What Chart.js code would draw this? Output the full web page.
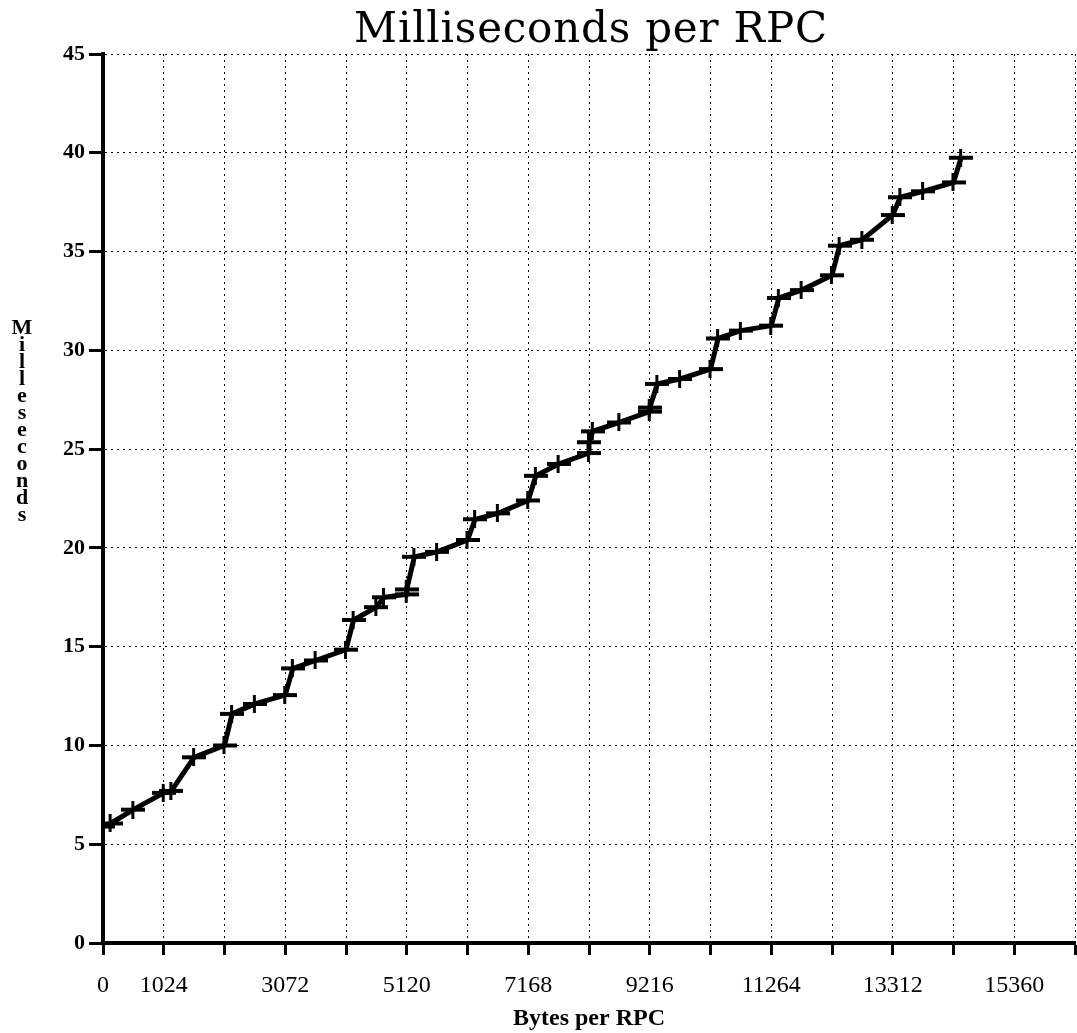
<!DOCTYPE html>
<html>
<head>
<meta charset="utf-8">
<script src="https://cdn.jsdelivr.net/npm/chart.js@4.4.0/dist/chart.umd.min.js"></script>
<style>
  html, body { margin: 0; background: #fff; }
</style>
</head>
<body>
<canvas id="graficoRPC" width="1077" height="1033"></canvas>
<script>
/* Milliseconds per RPC — custo de RPC por tamanho da mensagem */

const bytes = [0, 128, 512, 1024, 1152, 1536, 2048, 2176, 2560, 3072, 3200, 3584,
  4096, 4224, 4608, 4736, 5120, 5120, 5248, 5632, 6144, 6272, 6656,
  7168, 7296, 7680, 8192, 8192, 8256, 8704, 9216, 9216, 9344, 9728,
  10240, 10368, 10752, 11264, 11392, 11776, 12288, 12416, 12800,
  13312, 13440, 13824, 14336, 14464];
const ms = [5.9, 6.05, 6.75, 7.6, 7.7, 9.4, 10.0, 11.6, 12.1, 12.55, 13.9, 14.3,
  14.85, 16.35, 17.0, 17.5, 17.65, 17.9, 19.55, 19.8, 20.4, 21.45, 21.75,
  22.4, 23.65, 24.25, 24.8, 25.35, 25.9, 26.35, 26.9, 27.1, 28.3, 28.55,
  29.05, 30.6, 31.0, 31.25, 32.65, 33.05, 33.8, 35.3, 35.6,
  36.85, 37.75, 38.05, 38.5, 39.75];

// rótulos do eixo x: só 0 e os múltiplos ímpares de 1024
const xRotulos = [0, 1024, 3072, 5120, 7168, 9216, 11264, 13312, 15360];
const titulo = 'Milliseconds per RPC';
const xTitulo = 'Bytes per RPC';
const yTitulo = 'Milleseconds';

const serif = '"Liberation Serif", "DejaVu Serif", serif';

// marcador "+" com braço horizontal mais largo
function marcadorMais() {
  const c = document.createElement('canvas');
  c.width = 24; c.height = 18;
  const g = c.getContext('2d');
  g.fillStyle = '#000';
  g.fillRect(0, 7, 24, 4);
  g.fillRect(10, 0, 3, 18);
  return c;
}

// título principal e título do eixo y (letras empilhadas)
const textos = {
  id: 'textos',
  afterDraw(chart) {
    const ctx = chart.ctx;
    ctx.save();
    ctx.fillStyle = '#000';
    ctx.textAlign = 'center';

    // título: largura ajustada ao original (~473px)
    ctx.font = '42px "DejaVu Serif", serif';
    const w = ctx.measureText(titulo).width;
    const extra = (473 - w) / (titulo.length - 1);
    if (extra > 0) ctx.letterSpacing = extra.toFixed(2) + 'px';
    ctx.textBaseline = 'alphabetic';
    ctx.fillText(titulo, 591, 42);
    ctx.letterSpacing = '0px';

    ctx.font = 'bold 22px ' + serif;
    ctx.textBaseline = 'middle';
    yTitulo.split('').forEach((l, i) => ctx.fillText(l, 22, 328 + i * 17));
    ctx.restore();
  }
};

new Chart(document.getElementById('graficoRPC'), {
  type: 'line',
  data: {
    datasets: [{
      data: bytes.map((b, i) => ({ x: b, y: ms[i] })),
      borderColor: '#000',
      borderWidth: 5,
      tension: 0,
      pointStyle: marcadorMais(),
      pointRadius: 9,
      pointHoverRadius: 9
    }]
  },
  options: {
    responsive: false,
    animation: false,
    layout: { autoPadding: false, padding: { top: 54, right: 2, left: 0, bottom: 0 } },
    plugins: {
      legend: { display: false },
      tooltip: { enabled: false },
      title: { display: false }
    },
    scales: {
      x: {
        type: 'linear',
        min: 0, max: 16384,
        afterFit: s => { s.height = 90; s.paddingLeft = 0; s.paddingRight = 0; },
        afterBuildTicks: s => { s.ticks = Array.from({ length: 17 }, (_, i) => ({ value: i * 1024 })); },
        ticks: {
          autoSkip: false, maxRotation: 0, padding: 16,
          color: '#000',
          font: { family: serif, size: 24 },
          callback: v => xRotulos.includes(v) ? String(v) : ''
        },
        grid: { color: '#000', lineWidth: 1, tickLength: 12, tickWidth: 3, tickColor: '#000' },
        border: { display: true, color: '#000', width: 4, dash: [2, 4] },
        title: {
          display: true, text: xTitulo, color: '#000',
          font: { family: serif, size: 24, weight: 'bold' },
          padding: { top: 0, bottom: 0 }
        }
      },
      y: {
        min: 0, max: 45,
        afterFit: s => { s.width = 103; },
        ticks: {
          stepSize: 5, padding: 4, color: '#000',
          font: { family: serif, size: 22, weight: 'bold' }
        },
        grid: { color: '#000', lineWidth: 1, tickLength: 14, tickWidth: 3, tickColor: '#000' },
        border: { display: true, color: '#000', width: 4, dash: [2, 4] }
      }
    }
  },
  plugins: [textos]
});
</script>
</body>
</html>
